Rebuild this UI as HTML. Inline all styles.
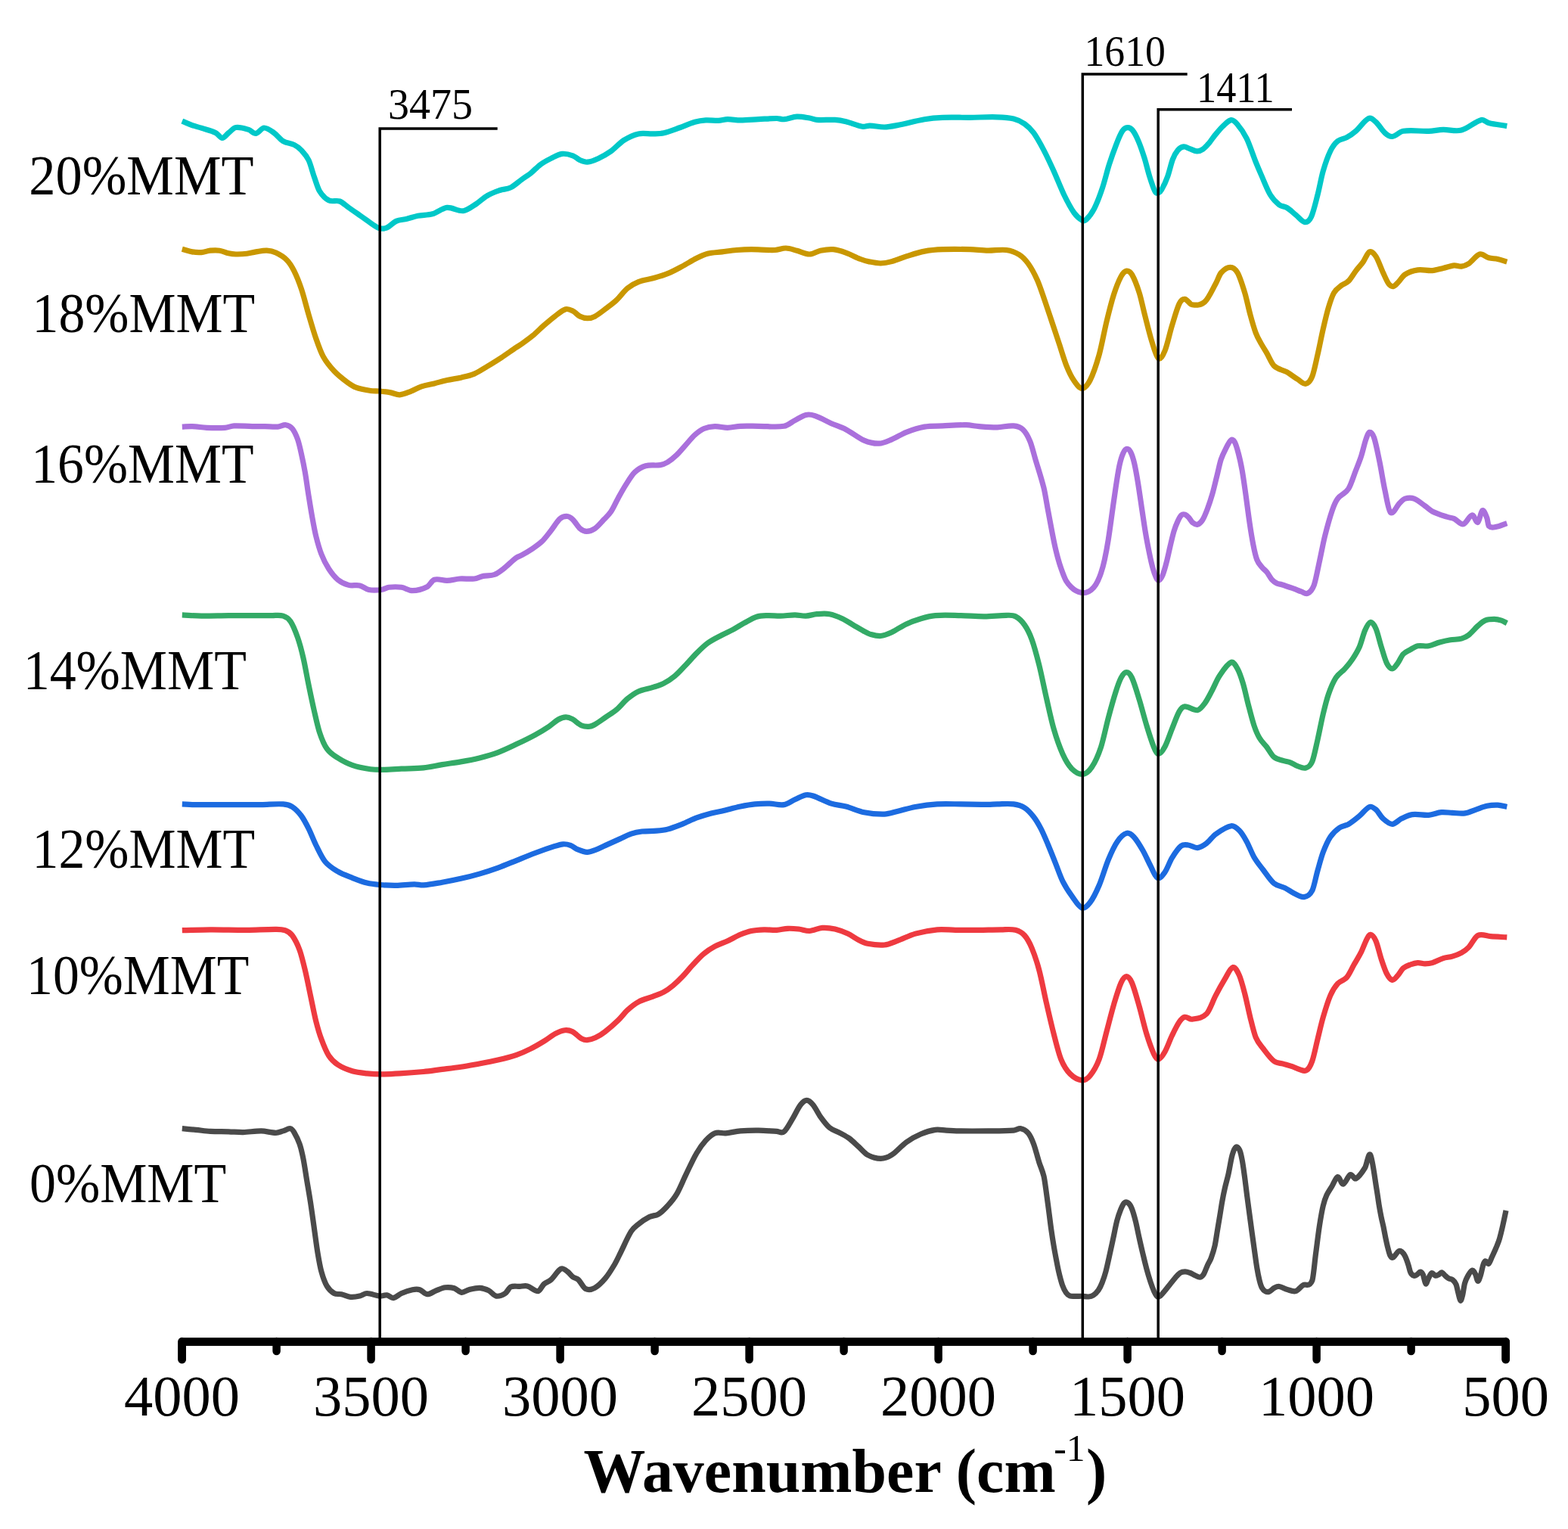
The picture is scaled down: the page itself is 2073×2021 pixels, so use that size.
<!DOCTYPE html>
<html><head><meta charset="utf-8">
<style>
html,body{margin:0;padding:0;background:#fff;}
body{width:2073px;height:2021px;overflow:hidden;}
svg{display:block;}
text{font-family:"Liberation Serif","Times New Roman",serif;fill:#000;}
</style></head><body>
<svg width="2073" height="2021" viewBox="0 0 2073 2021">
<rect width="2073" height="2021" fill="#fff"/>
<g>
<g fill="none" stroke-width="7.2" stroke-linejoin="round" stroke-linecap="butt">
<path d="M240.8,1491.7 C246.8,1492.3 252.9,1492.8 258.9,1493.4 C265.3,1494.0 271.7,1495.0 278.1,1495.4 C286.1,1495.8 294.2,1495.6 302.2,1495.8 C308.6,1496.0 315.0,1496.7 321.4,1496.6 C329.4,1496.4 337.5,1494.8 345.5,1494.9 C351.9,1495.0 358.4,1497.3 364.8,1497.3 C368.0,1497.3 371.2,1495.8 374.4,1494.9 C377.6,1494.0 380.8,1491.3 384.0,1491.7 C385.6,1491.9 387.2,1493.9 388.8,1496.6 C391.2,1500.7 393.7,1505.2 396.1,1512.2 C397.7,1516.8 399.3,1523.4 400.9,1531.4 C402.5,1539.4 404.1,1550.7 405.7,1560.3 C407.3,1569.9 408.9,1578.8 410.5,1589.2 C412.1,1599.6 413.7,1611.7 415.3,1622.9 C416.9,1634.1 418.5,1647.0 420.1,1656.6 C421.7,1666.2 423.3,1675.0 424.9,1680.7 C427.3,1689.4 429.8,1695.8 432.2,1699.9 C435.4,1705.4 438.6,1707.7 441.8,1709.5 C445.0,1711.3 448.2,1710.0 451.4,1710.7 C455.4,1711.6 459.4,1713.9 463.4,1714.3 C467.4,1714.7 471.5,1714.0 475.5,1713.1 C478.7,1712.4 481.9,1709.5 485.1,1709.5 C490.7,1709.5 496.3,1712.6 501.9,1713.1 C505.1,1713.4 508.4,1711.5 511.6,1711.9 C514.4,1712.3 517.2,1715.9 520.0,1715.6 C523.6,1715.1 527.2,1711.1 530.8,1709.5 C535.6,1707.4 540.5,1705.7 545.3,1704.7 C548.5,1704.1 551.7,1703.7 554.9,1704.7 C558.1,1705.7 561.3,1710.5 564.5,1710.7 C568.5,1710.9 572.5,1707.4 576.5,1705.9 C580.5,1704.4 584.6,1702.3 588.6,1701.8 C592.6,1701.3 596.6,1701.6 600.6,1702.8 C603.8,1703.8 607.0,1708.0 610.2,1708.3 C613.4,1708.6 616.7,1705.5 619.9,1704.7 C624.7,1703.5 629.5,1702.1 634.3,1702.3 C638.3,1702.5 642.3,1703.9 646.3,1705.9 C649.5,1707.5 652.8,1712.6 656.0,1713.1 C660.0,1713.8 664.0,1712.0 668.0,1709.5 C670.4,1708.0 672.8,1702.2 675.2,1701.1 C679.2,1699.2 683.2,1700.6 687.2,1700.4 C690.5,1700.2 693.9,1699.1 697.2,1699.9 C702.0,1701.1 706.9,1707.1 711.7,1706.6 C714.1,1706.3 716.5,1699.7 718.9,1697.5 C722.1,1694.6 725.3,1694.4 728.5,1691.5 C732.9,1687.5 737.3,1679.2 741.7,1677.0 C744.5,1675.6 747.4,1678.7 750.2,1680.7 C752.6,1682.4 755.0,1686.1 757.4,1687.9 C759.8,1689.7 762.2,1689.3 764.6,1691.5 C767.8,1694.5 771.0,1701.9 774.2,1703.5 C778.2,1705.5 782.3,1704.5 786.3,1702.3 C791.1,1699.7 795.9,1694.8 800.7,1689.1 C804.7,1684.4 808.7,1677.7 812.7,1671.0 C815.1,1666.9 817.6,1661.5 820.0,1656.6 C824.8,1647.0 829.6,1635.4 834.4,1627.7 C837.6,1622.6 840.8,1620.6 844.0,1618.1 C848.8,1614.2 853.7,1610.9 858.5,1608.5 C862.5,1606.5 866.5,1607.2 870.5,1604.8 C874.5,1602.4 878.5,1598.4 882.5,1594.0 C886.5,1589.6 890.6,1585.2 894.6,1578.4 C898.6,1571.6 902.6,1561.3 906.6,1553.1 C911.4,1543.2 916.2,1532.5 921.0,1524.2 C925.0,1517.2 929.1,1511.8 933.1,1507.4 C937.1,1503.0 941.1,1499.3 945.1,1497.8 C949.9,1496.1 954.7,1498.2 959.5,1497.8 C965.9,1497.2 972.4,1495.4 978.8,1494.9 C986.8,1494.2 994.9,1494.0 1002.9,1494.1 C1010.9,1494.2 1018.9,1495.0 1026.9,1495.4 C1030.1,1495.6 1033.3,1498.5 1036.5,1495.8 C1040.5,1492.4 1044.6,1483.9 1048.6,1477.3 C1051.8,1472.1 1055.0,1464.6 1058.2,1460.5 C1061.0,1456.9 1063.8,1454.4 1066.6,1454.4 C1069.4,1454.4 1072.2,1457.1 1075.0,1460.5 C1078.2,1464.4 1081.5,1471.6 1084.7,1476.1 C1088.7,1481.6 1092.7,1487.2 1096.7,1490.5 C1101.5,1494.4 1106.3,1495.2 1111.1,1497.8 C1115.1,1500.0 1119.2,1502.0 1123.2,1505.0 C1127.2,1508.0 1131.2,1512.2 1135.2,1515.8 C1139.2,1519.4 1143.2,1524.5 1147.2,1526.6 C1152.9,1529.7 1158.7,1531.4 1164.4,1531.4 C1169.2,1531.4 1174.1,1529.7 1178.9,1526.6 C1185.3,1522.5 1191.7,1514.4 1198.1,1509.8 C1204.5,1505.2 1211.0,1501.7 1217.4,1499.0 C1223.8,1496.3 1230.2,1494.3 1236.6,1493.4 C1241.4,1492.7 1246.3,1493.9 1251.1,1494.1 C1257.5,1494.4 1263.9,1494.8 1270.3,1494.9 C1282.3,1495.1 1294.4,1495.0 1306.4,1494.9 C1317.6,1494.8 1328.9,1494.9 1340.1,1494.1 C1343.3,1493.9 1346.5,1491.1 1349.7,1491.7 C1352.9,1492.3 1356.2,1493.9 1359.4,1497.8 C1361.8,1500.7 1364.2,1505.8 1366.6,1512.2 C1369.0,1518.6 1371.4,1528.7 1373.8,1536.3 C1375.9,1542.9 1377.9,1546.1 1380.0,1554.7 C1381.1,1559.3 1382.2,1568.3 1383.3,1576.0 C1384.4,1583.7 1385.5,1592.3 1386.6,1600.6 C1387.7,1608.7 1388.7,1617.7 1389.8,1625.2 C1390.9,1633.0 1392.0,1640.0 1393.1,1646.5 C1394.2,1653.1 1395.3,1658.8 1396.4,1664.5 C1397.5,1670.2 1398.6,1676.3 1399.7,1680.9 C1401.3,1687.8 1403.0,1694.3 1404.6,1698.9 C1406.2,1703.5 1407.9,1706.4 1409.5,1708.7 C1411.1,1711.0 1412.8,1712.2 1414.4,1712.8 C1417.1,1713.8 1419.9,1713.2 1422.6,1713.3 C1425.3,1713.4 1428.1,1713.2 1430.8,1713.3 C1433.5,1713.4 1436.3,1714.2 1439.0,1714.0 C1441.2,1713.8 1443.3,1713.4 1445.5,1712.0 C1447.7,1710.6 1449.9,1708.5 1452.1,1705.4 C1453.7,1703.1 1455.4,1699.7 1457.0,1695.6 C1458.6,1691.5 1460.3,1686.9 1461.9,1680.9 C1463.5,1674.9 1465.2,1666.9 1466.8,1659.6 C1468.5,1652.1 1470.1,1644.3 1471.8,1636.6 C1473.4,1629.0 1475.1,1620.0 1476.7,1613.7 C1478.3,1607.4 1480.0,1602.9 1481.6,1598.9 C1483.2,1594.9 1484.9,1591.4 1486.5,1589.9 C1488.1,1588.4 1489.8,1588.7 1491.4,1589.9 C1493.0,1591.1 1494.7,1593.3 1496.3,1597.3 C1497.9,1601.3 1499.6,1607.2 1501.2,1613.7 C1502.9,1620.3 1504.5,1629.2 1506.2,1636.6 C1507.8,1643.9 1509.5,1651.1 1511.1,1657.9 C1512.7,1664.7 1514.4,1671.6 1516.0,1677.6 C1517.6,1683.6 1519.3,1689.1 1520.9,1694.0 C1522.5,1698.9 1524.2,1703.5 1525.8,1707.1 C1527.2,1710.1 1528.5,1712.6 1529.9,1713.6 C1531.3,1714.5 1532.6,1713.8 1534.0,1712.8 C1536.2,1711.1 1538.4,1708.0 1540.6,1705.4 C1542.8,1702.8 1544.9,1699.9 1547.1,1697.2 C1549.3,1694.5 1551.5,1691.6 1553.7,1689.1 C1555.9,1686.7 1558.0,1683.9 1560.2,1682.5 C1562.4,1681.1 1564.6,1680.9 1566.8,1680.9 C1569.0,1680.9 1571.1,1681.7 1573.3,1682.5 C1575.5,1683.3 1577.7,1684.8 1579.9,1685.8 C1582.1,1686.8 1584.3,1688.5 1586.5,1688.2 C1588.1,1688.0 1589.8,1686.7 1591.4,1684.1 C1593.0,1681.5 1594.7,1676.2 1596.3,1672.7 C1597.9,1669.1 1599.6,1667.2 1601.2,1662.8 C1602.8,1658.4 1604.5,1653.7 1606.1,1646.5 C1607.2,1641.7 1608.3,1633.4 1609.4,1626.8 C1610.5,1620.2 1611.6,1613.8 1612.7,1607.1 C1613.8,1600.7 1614.8,1593.4 1615.9,1587.5 C1617.0,1581.4 1618.1,1575.9 1619.2,1571.1 C1620.8,1563.9 1622.5,1558.7 1624.1,1551.4 C1625.8,1543.9 1627.4,1532.7 1629.1,1526.8 C1630.7,1521.0 1632.4,1517.3 1634.0,1516.2 C1635.6,1515.1 1637.3,1516.9 1638.9,1520.3 C1640.0,1522.6 1641.1,1527.6 1642.2,1533.4 C1643.3,1539.0 1644.3,1546.9 1645.4,1554.7 C1646.5,1562.7 1647.6,1572.4 1648.7,1580.9 C1649.8,1589.4 1650.9,1597.3 1652.0,1605.5 C1653.1,1613.7 1654.2,1622.1 1655.3,1630.1 C1656.4,1637.9 1657.4,1645.5 1658.5,1653.0 C1659.6,1660.8 1660.7,1669.4 1661.8,1675.9 C1662.9,1682.5 1664.0,1687.9 1665.1,1692.3 C1666.2,1696.7 1667.3,1700.2 1668.4,1702.2 C1670.0,1705.1 1671.7,1706.3 1673.3,1707.1 C1674.9,1707.9 1676.6,1707.8 1678.2,1707.1 C1680.4,1706.2 1682.6,1703.3 1684.8,1702.2 C1687.0,1701.1 1689.1,1700.2 1691.3,1700.5 C1694.6,1700.9 1697.8,1703.3 1701.1,1704.2 C1705.1,1705.3 1709.1,1707.6 1713.1,1706.6 C1716.3,1705.8 1719.5,1700.7 1722.7,1698.7 C1726.7,1696.1 1730.8,1702.7 1734.8,1692.7 C1736.4,1688.7 1738.0,1668.6 1739.6,1656.6 C1741.2,1644.6 1742.8,1630.9 1744.4,1620.5 C1746.0,1610.1 1747.6,1600.8 1749.2,1594.0 C1750.8,1587.2 1752.4,1583.1 1754.0,1579.6 C1756.4,1574.3 1758.8,1571.5 1761.2,1567.5 C1763.6,1563.5 1766.1,1555.9 1768.5,1555.5 C1770.9,1555.1 1773.3,1565.5 1775.7,1565.1 C1778.9,1564.5 1782.1,1554.0 1785.3,1552.6 C1787.7,1551.6 1790.1,1559.0 1792.5,1557.9 C1796.5,1556.0 1800.6,1550.0 1804.6,1543.5 C1807.0,1539.6 1809.4,1521.9 1811.8,1526.6 C1814.7,1532.2 1817.5,1557.6 1820.4,1574.3 C1821.3,1579.7 1822.3,1587.4 1823.2,1593.0 C1824.2,1598.8 1825.1,1603.9 1826.1,1608.7 C1827.1,1613.5 1828.0,1617.0 1829.0,1621.6 C1829.9,1626.1 1830.9,1631.5 1831.8,1636.0 C1832.8,1640.6 1833.7,1645.1 1834.7,1648.9 C1835.7,1652.7 1836.6,1656.8 1837.6,1658.9 C1838.8,1661.4 1839.9,1662.5 1841.1,1662.5 C1842.3,1662.5 1843.5,1660.2 1844.7,1658.9 C1846.1,1657.3 1847.6,1654.6 1849.0,1653.9 C1850.4,1653.2 1851.9,1653.5 1853.3,1654.6 C1854.7,1655.7 1856.2,1657.5 1857.6,1660.4 C1859.0,1663.3 1860.5,1667.5 1861.9,1671.8 C1862.9,1674.7 1863.8,1680.0 1864.8,1681.9 C1866.2,1684.8 1867.7,1685.7 1869.1,1686.2 C1870.5,1686.7 1872.0,1685.6 1873.4,1684.7 C1874.8,1683.9 1876.3,1681.1 1877.7,1681.1 C1878.9,1681.1 1880.1,1682.1 1881.3,1684.7 C1882.5,1687.3 1883.7,1696.1 1884.9,1696.9 C1886.1,1697.7 1887.3,1691.9 1888.5,1689.7 C1889.9,1687.1 1891.4,1683.1 1892.8,1682.6 C1894.5,1682.0 1896.1,1685.8 1897.8,1686.2 C1899.2,1686.5 1900.7,1685.4 1902.1,1684.7 C1903.5,1684.0 1905.0,1681.7 1906.4,1681.9 C1907.8,1682.2 1909.3,1684.9 1910.7,1686.2 C1912.1,1687.5 1913.6,1688.9 1915.0,1689.7 C1916.9,1690.8 1918.8,1690.4 1920.7,1691.9 C1922.1,1693.0 1923.6,1694.2 1925.0,1697.6 C1926.0,1699.9 1926.9,1705.5 1927.9,1709.1 C1928.9,1712.7 1929.8,1718.6 1930.8,1719.1 C1931.7,1719.6 1932.7,1715.7 1933.6,1712.0 C1934.6,1708.1 1935.5,1699.7 1936.5,1696.2 C1937.9,1691.1 1939.4,1688.7 1940.8,1686.2 C1942.7,1682.9 1944.6,1679.3 1946.5,1679.0 C1947.9,1678.8 1949.4,1681.9 1950.8,1684.7 C1951.8,1686.6 1952.7,1693.1 1953.7,1693.3 C1954.9,1693.6 1956.1,1689.8 1957.3,1686.2 C1958.5,1682.6 1959.7,1675.4 1960.9,1671.8 C1961.8,1669.0 1962.8,1667.0 1963.7,1666.8 C1965.1,1666.5 1966.6,1671.2 1968.0,1670.4 C1969.4,1669.6 1970.9,1664.9 1972.3,1661.8 C1974.2,1657.7 1976.2,1653.6 1978.1,1648.9 C1979.5,1645.4 1981.0,1642.2 1982.4,1637.4 C1983.8,1632.6 1985.3,1626.3 1986.7,1620.2 C1987.6,1616.2 1988.6,1611.7 1989.5,1607.3 C1990.0,1605.0 1990.5,1602.5 1991.0,1600.1" stroke="#4A4A4A"/>
<path d="M240.8,1229.7 C253.2,1229.4 265.7,1228.9 278.1,1228.8 C294.2,1228.7 310.2,1229.4 326.3,1229.3 C339.1,1229.2 352.0,1228.2 364.8,1228.3 C368.8,1228.3 372.8,1228.2 376.8,1229.7 C380.0,1230.9 383.2,1232.2 386.4,1236.5 C389.6,1240.9 392.9,1247.0 396.1,1255.7 C398.5,1262.2 400.9,1272.2 403.3,1282.2 C405.7,1292.2 408.1,1304.7 410.5,1315.9 C412.9,1327.1 415.3,1340.0 417.7,1349.6 C420.1,1359.2 422.5,1367.1 424.9,1373.6 C428.1,1382.3 431.4,1390.3 434.6,1395.3 C438.6,1401.5 442.6,1404.7 446.6,1407.3 C453.0,1411.5 459.4,1413.9 465.8,1415.8 C472.2,1417.7 478.7,1418.2 485.1,1418.9 C491.5,1419.6 497.9,1419.9 504.3,1419.9 C512.3,1419.9 520.4,1419.4 528.4,1418.9 C538.9,1418.3 549.5,1417.5 560.0,1416.5 C568.2,1415.7 576.4,1414.4 584.6,1413.4 C592.8,1412.4 601.0,1411.5 609.2,1410.3 C617.4,1409.1 625.5,1407.5 633.7,1406.0 C641.9,1404.5 650.1,1403.0 658.3,1401.1 C666.5,1399.1 674.7,1397.1 682.9,1394.3 C689.0,1392.2 695.2,1389.5 701.3,1386.4 C707.5,1383.3 713.6,1379.7 719.8,1375.9 C724.7,1372.9 729.6,1368.7 734.5,1366.1 C738.6,1364.0 742.7,1362.3 746.8,1361.8 C750.1,1361.4 753.3,1362.0 756.6,1363.6 C760.7,1365.6 764.8,1370.5 768.9,1372.8 C771.4,1374.2 773.8,1374.9 776.3,1374.7 C780.0,1374.5 783.6,1373.3 787.3,1371.6 C791.5,1369.6 795.8,1366.9 800.0,1363.6 C805.8,1359.1 811.7,1354.0 817.5,1348.4 C821.5,1344.5 825.6,1338.8 829.6,1335.1 C834.4,1330.7 839.2,1326.9 844.0,1324.3 C850.4,1320.9 856.9,1319.6 863.3,1317.1 C868.1,1315.2 872.9,1313.7 877.7,1311.1 C881.7,1308.9 885.7,1306.0 889.7,1302.7 C893.7,1299.4 897.8,1295.5 901.8,1291.3 C906.6,1286.3 911.4,1280.1 916.2,1275.0 C921.0,1269.8 925.9,1264.5 930.7,1260.5 C935.5,1256.5 940.3,1253.5 945.1,1250.9 C950.7,1247.9 956.3,1246.3 961.9,1243.7 C967.5,1241.1 973.2,1237.7 978.8,1235.3 C983.6,1233.3 988.4,1231.5 993.2,1230.5 C998.8,1229.3 1004.5,1229.0 1010.1,1228.8 C1015.7,1228.6 1021.3,1229.6 1026.9,1229.3 C1031.7,1229.1 1036.6,1227.5 1041.4,1227.3 C1046.2,1227.1 1051.0,1227.5 1055.8,1228.0 C1060.6,1228.5 1065.4,1230.7 1070.2,1230.5 C1075.8,1230.2 1081.5,1226.8 1087.1,1226.4 C1092.7,1226.0 1098.3,1226.7 1103.9,1228.0 C1109.5,1229.3 1115.2,1231.5 1120.8,1234.1 C1125.6,1236.3 1130.4,1240.1 1135.2,1242.5 C1139.2,1244.5 1143.2,1246.5 1147.2,1247.3 C1154.6,1248.7 1161.9,1249.7 1169.3,1249.0 C1174.9,1248.5 1180.5,1245.7 1186.1,1243.7 C1194.1,1240.8 1202.2,1236.4 1210.2,1234.1 C1219.8,1231.4 1229.4,1229.7 1239.0,1228.8 C1247.0,1228.1 1255.1,1229.2 1263.1,1229.3 C1273.5,1229.4 1284.0,1229.4 1294.4,1229.3 C1304.0,1229.2 1313.7,1228.8 1323.3,1228.8 C1329.7,1228.8 1336.1,1227.7 1342.5,1229.3 C1346.5,1230.3 1350.6,1232.0 1354.6,1236.5 C1357.8,1240.0 1361.0,1245.7 1364.2,1253.3 C1367.4,1260.9 1370.6,1270.2 1373.8,1282.2 C1377.0,1294.2 1380.2,1311.5 1383.4,1325.5 C1386.6,1339.6 1389.9,1353.9 1393.1,1366.4 C1396.3,1378.8 1399.5,1392.2 1402.7,1400.1 C1406.7,1409.9 1410.7,1415.4 1414.7,1419.4 C1419.9,1424.6 1425.2,1427.3 1430.4,1427.8 C1434.0,1428.1 1437.6,1426.2 1441.2,1421.8 C1445.2,1416.9 1449.2,1410.8 1453.2,1400.1 C1456.4,1391.5 1459.7,1376.1 1462.9,1364.0 C1466.1,1352.0 1469.3,1338.7 1472.5,1327.9 C1475.7,1317.1 1478.9,1306.1 1482.1,1299.0 C1484.5,1293.7 1486.9,1290.6 1489.3,1290.6 C1491.7,1290.6 1494.1,1293.4 1496.5,1299.0 C1499.7,1306.6 1503.0,1319.0 1506.2,1330.3 C1509.4,1341.5 1512.6,1356.0 1515.8,1366.4 C1519.0,1376.8 1522.2,1386.0 1525.4,1392.9 C1527.4,1397.2 1529.4,1400.4 1531.4,1400.1 C1534.2,1399.6 1537.1,1395.4 1539.9,1390.5 C1543.1,1385.0 1546.3,1375.4 1549.5,1368.8 C1552.7,1362.2 1555.9,1355.5 1559.1,1350.8 C1561.5,1347.3 1563.9,1344.8 1566.3,1344.3 C1569.5,1343.6 1572.8,1347.7 1576.0,1347.2 C1582.4,1346.2 1588.8,1346.4 1595.2,1340.0 C1599.2,1336.0 1603.2,1323.5 1607.2,1315.9 C1611.2,1308.2 1615.3,1300.8 1619.3,1294.2 C1622.9,1288.3 1626.5,1279.5 1630.1,1278.6 C1632.9,1277.9 1635.7,1283.1 1638.5,1289.4 C1640.9,1294.8 1643.3,1304.3 1645.7,1313.5 C1648.1,1322.7 1650.5,1335.2 1652.9,1344.8 C1655.3,1354.5 1657.8,1365.3 1660.2,1371.2 C1663.4,1378.9 1666.6,1381.5 1669.8,1385.7 C1674.6,1392.0 1679.4,1398.8 1684.2,1402.5 C1688.2,1405.6 1692.3,1404.9 1696.3,1406.1 C1700.3,1407.3 1704.3,1408.3 1708.3,1409.7 C1711.5,1410.8 1714.7,1412.6 1717.9,1413.4 C1721.1,1414.2 1724.3,1416.7 1727.5,1414.6 C1729.9,1413.0 1732.4,1409.4 1734.8,1402.5 C1737.2,1395.7 1739.6,1383.2 1742.0,1373.6 C1744.4,1364.0 1746.8,1353.0 1749.2,1344.8 C1752.4,1333.8 1755.6,1323.3 1758.8,1315.9 C1762.0,1308.4 1765.3,1303.8 1768.5,1300.2 C1772.5,1295.8 1776.5,1296.5 1780.5,1291.8 C1783.7,1288.1 1786.9,1280.6 1790.1,1275.0 C1793.3,1269.4 1796.5,1264.5 1799.7,1258.1 C1802.1,1253.2 1804.6,1245.9 1807.0,1241.3 C1808.6,1238.3 1810.2,1235.0 1811.8,1235.3 C1814.2,1235.8 1816.6,1238.3 1819.0,1243.7 C1821.4,1249.1 1823.8,1260.6 1826.2,1267.8 C1828.6,1275.0 1831.0,1282.4 1833.4,1287.0 C1835.8,1291.6 1838.3,1295.0 1840.7,1295.4 C1843.1,1295.8 1845.5,1292.0 1847.9,1289.4 C1850.3,1286.8 1852.7,1281.9 1855.1,1279.8 C1858.3,1277.1 1861.5,1276.2 1864.7,1275.0 C1867.9,1273.8 1871.1,1272.8 1874.3,1272.6 C1877.5,1272.4 1880.8,1273.8 1884.0,1273.8 C1887.2,1273.8 1890.4,1273.6 1893.6,1272.6 C1898.4,1271.2 1903.2,1268.1 1908.0,1266.6 C1912.0,1265.3 1916.1,1265.3 1920.1,1264.1 C1924.1,1262.9 1928.1,1261.5 1932.1,1259.3 C1935.3,1257.5 1938.5,1255.5 1941.7,1252.1 C1945.7,1247.9 1949.8,1238.5 1953.8,1236.5 C1959.4,1233.7 1965.0,1237.4 1970.6,1237.7 C1977.8,1238.2 1985.1,1238.5 1992.3,1238.9" stroke="#EE3A40"/>
<path d="M240.8,1062.9 C245.2,1063.1 249.7,1063.5 254.1,1063.6 C270.1,1063.8 286.2,1063.6 302.2,1063.6 C316.6,1063.6 331.1,1063.7 345.5,1063.6 C355.1,1063.5 364.8,1062.2 374.4,1062.9 C378.4,1063.2 382.4,1063.9 386.4,1066.5 C390.4,1069.1 394.5,1073.1 398.5,1078.5 C401.7,1082.8 404.9,1089.0 408.1,1095.4 C411.3,1101.8 414.5,1110.6 417.7,1117.0 C421.7,1125.0 425.7,1133.9 429.7,1138.7 C435.3,1145.5 441.0,1148.5 446.6,1151.9 C453.0,1155.7 459.4,1157.8 465.8,1160.3 C472.2,1162.8 478.7,1165.5 485.1,1167.1 C490.7,1168.5 496.3,1169.0 501.9,1169.5 C509.1,1170.1 516.4,1170.5 523.6,1170.4 C531.6,1170.3 539.7,1168.9 547.7,1168.8 C551.8,1168.7 555.9,1170.2 560.0,1169.9 C568.2,1169.3 576.4,1167.6 584.6,1166.2 C592.8,1164.8 601.0,1163.2 609.2,1161.3 C617.4,1159.5 625.5,1157.5 633.7,1155.1 C641.9,1152.7 650.1,1150.1 658.3,1147.1 C666.5,1144.1 674.7,1140.6 682.9,1137.3 C691.1,1134.0 699.3,1130.6 707.5,1127.5 C715.7,1124.4 723.8,1121.5 732.0,1118.9 C736.1,1117.6 740.2,1116.1 744.3,1115.8 C747.6,1115.6 750.9,1116.1 754.2,1117.3 C757.5,1118.5 760.7,1121.6 764.0,1122.9 C768.1,1124.6 772.2,1126.2 776.3,1126.3 C780.0,1126.4 783.6,1124.7 787.3,1123.4 C791.5,1121.8 795.8,1119.5 800.0,1117.6 C806.7,1114.6 813.3,1111.6 820.0,1108.6 C824.8,1106.4 829.6,1103.7 834.4,1102.1 C839.2,1100.5 844.0,1099.6 848.8,1099.0 C855.2,1098.3 861.7,1098.8 868.1,1098.2 C872.9,1097.8 877.7,1097.4 882.5,1096.1 C888.9,1094.4 895.4,1091.8 901.8,1089.3 C908.2,1086.8 914.6,1083.3 921.0,1080.9 C927.4,1078.5 933.9,1076.6 940.3,1074.9 C945.1,1073.6 949.9,1073.1 954.7,1072.0 C962.7,1070.1 970.8,1067.7 978.8,1066.0 C985.2,1064.7 991.6,1063.5 998.0,1062.9 C1004.4,1062.2 1010.9,1062.0 1017.3,1062.1 C1023.7,1062.2 1030.1,1064.6 1036.5,1063.6 C1041.3,1062.8 1046.2,1058.9 1051.0,1056.8 C1055.8,1054.7 1060.6,1051.8 1065.4,1050.8 C1068.6,1050.2 1071.8,1050.9 1075.0,1052.0 C1083.0,1054.7 1091.1,1059.5 1099.1,1062.1 C1105.5,1064.2 1112.0,1064.3 1118.4,1066.0 C1126.4,1068.1 1134.4,1072.1 1142.4,1073.7 C1151.4,1075.5 1160.3,1076.3 1169.3,1076.1 C1174.9,1075.9 1180.5,1073.8 1186.1,1072.5 C1194.1,1070.6 1202.2,1068.0 1210.2,1066.5 C1219.8,1064.8 1229.4,1063.5 1239.0,1062.9 C1249.4,1062.3 1259.9,1062.8 1270.3,1062.9 C1282.3,1063.0 1294.4,1063.3 1306.4,1063.3 C1310.4,1063.3 1314.5,1062.9 1318.5,1062.9 C1325.7,1062.8 1332.9,1061.9 1340.1,1062.9 C1344.9,1063.5 1349.8,1064.6 1354.6,1067.7 C1358.6,1070.2 1362.6,1074.6 1366.6,1079.7 C1369.8,1083.8 1373.0,1089.2 1376.2,1095.4 C1379.4,1101.6 1382.6,1109.4 1385.8,1117.0 C1389.0,1124.7 1392.3,1133.0 1395.5,1141.1 C1398.7,1149.1 1401.9,1158.7 1405.1,1165.1 C1409.1,1173.1 1413.1,1178.9 1417.1,1184.4 C1421.5,1190.5 1426.0,1198.5 1430.4,1200.0 C1434.0,1201.3 1437.6,1197.5 1441.2,1192.8 C1445.2,1187.5 1449.2,1179.4 1453.2,1170.0 C1457.2,1160.5 1461.3,1146.0 1465.3,1136.3 C1469.3,1126.7 1473.3,1118.0 1477.3,1112.2 C1481.3,1106.4 1485.3,1102.5 1489.3,1101.4 C1492.5,1100.5 1495.8,1102.8 1499.0,1106.2 C1503.0,1110.4 1507.0,1117.3 1511.0,1124.2 C1514.2,1129.7 1517.4,1137.5 1520.6,1143.5 C1523.8,1149.5 1527.0,1158.7 1530.2,1160.3 C1533.4,1161.9 1536.7,1157.5 1539.9,1153.1 C1543.1,1148.7 1546.3,1139.1 1549.5,1133.9 C1553.5,1127.4 1557.5,1121.3 1561.5,1118.2 C1564.7,1115.7 1567.9,1116.6 1571.1,1117.0 C1575.1,1117.4 1579.2,1121.0 1583.2,1120.6 C1587.2,1120.2 1591.2,1117.6 1595.2,1114.6 C1599.2,1111.6 1603.2,1105.4 1607.2,1102.6 C1614.0,1097.8 1620.9,1092.7 1627.7,1091.7 C1631.3,1091.1 1634.9,1094.2 1638.5,1097.8 C1641.7,1101.0 1644.9,1106.4 1648.1,1112.2 C1651.3,1118.0 1654.6,1127.1 1657.8,1132.7 C1661.8,1139.6 1665.8,1144.2 1669.8,1149.5 C1674.6,1155.8 1679.4,1163.5 1684.2,1167.5 C1689.0,1171.5 1693.9,1171.2 1698.7,1173.6 C1702.7,1175.6 1706.7,1178.9 1710.7,1180.8 C1715.1,1182.9 1719.5,1186.3 1723.9,1185.6 C1727.5,1185.1 1731.2,1184.2 1734.8,1177.2 C1737.2,1172.6 1739.6,1159.1 1742.0,1150.7 C1744.4,1142.3 1746.8,1133.0 1749.2,1126.6 C1752.4,1118.1 1755.6,1111.0 1758.8,1106.2 C1762.8,1100.2 1766.9,1096.9 1770.9,1094.1 C1774.9,1091.3 1778.9,1091.7 1782.9,1089.3 C1787.7,1086.5 1792.5,1082.5 1797.3,1078.5 C1801.7,1074.9 1806.2,1068.2 1810.6,1066.5 C1813.4,1065.4 1816.2,1067.7 1819.0,1070.1 C1822.2,1072.9 1825.4,1079.3 1828.6,1082.1 C1832.6,1085.7 1836.7,1089.3 1840.7,1089.3 C1844.7,1089.3 1848.7,1084.0 1852.7,1082.1 C1857.5,1079.8 1862.3,1077.2 1867.1,1076.6 C1874.3,1075.6 1881.6,1077.8 1888.8,1077.3 C1894.4,1076.9 1900.0,1074.2 1905.6,1073.7 C1910.4,1073.3 1915.3,1074.2 1920.1,1074.4 C1925.7,1074.6 1931.3,1075.7 1936.9,1074.9 C1941.7,1074.2 1946.6,1071.7 1951.4,1070.1 C1956.2,1068.5 1961.0,1066.3 1965.8,1065.3 C1970.6,1064.3 1975.4,1063.9 1980.2,1064.1 C1984.2,1064.3 1988.3,1065.7 1992.3,1066.5" stroke="#1C6BE0"/>
<path d="M240.8,812.9 C249.2,813.3 257.7,814.0 266.1,814.1 C278.1,814.2 290.2,813.7 302.2,813.6 C321.5,813.5 340.7,813.5 360.0,813.6 C364.8,813.6 369.6,812.6 374.4,814.1 C377.6,815.1 380.8,816.5 384.0,821.3 C387.2,826.1 390.4,833.8 393.6,842.9 C396.0,849.8 398.5,858.9 400.9,869.4 C403.3,879.8 405.7,893.9 408.1,905.5 C410.5,917.1 412.9,928.8 415.3,939.2 C417.7,949.6 420.1,960.9 422.5,968.1 C425.7,977.8 429.0,985.2 432.2,989.7 C437.0,996.4 441.8,998.7 446.6,1001.8 C453.0,1005.9 459.4,1009.2 465.8,1011.4 C473.8,1014.2 481.9,1015.5 489.9,1016.7 C495.5,1017.5 501.2,1017.5 506.8,1017.4 C514.8,1017.3 522.8,1016.6 530.8,1016.2 C540.5,1015.7 550.3,1015.9 560.0,1014.9 C568.2,1014.0 576.4,1011.9 584.6,1010.6 C592.8,1009.3 601.0,1008.3 609.2,1006.9 C617.4,1005.5 625.5,1004.0 633.7,1002.0 C641.9,999.9 650.1,997.7 658.3,994.6 C666.5,991.5 674.7,987.5 682.9,983.6 C691.1,979.7 699.3,975.8 707.5,971.3 C713.6,968.0 719.8,964.3 725.9,960.2 C730.0,957.5 734.1,953.3 738.2,951.0 C741.5,949.2 744.7,948.0 748.0,947.9 C750.9,947.8 753.7,948.9 756.6,950.4 C760.7,952.6 764.8,957.3 768.9,959.0 C772.6,960.5 776.3,960.6 780.0,960.2 C782.4,959.9 784.9,958.5 787.3,957.1 C791.5,954.6 795.8,951.4 800.0,948.5 C805.0,945.0 810.1,942.2 815.1,938.0 C819.9,933.9 824.8,927.6 829.6,923.6 C834.4,919.6 839.2,916.1 844.0,913.9 C850.4,911.0 856.9,910.5 863.3,908.4 C868.1,906.9 872.9,905.6 877.7,903.1 C882.5,900.6 887.4,897.5 892.2,893.5 C897.0,889.5 901.8,884.0 906.6,879.0 C911.4,874.0 916.2,868.2 921.0,863.4 C925.8,858.6 930.7,853.7 935.5,850.2 C941.9,845.6 948.3,842.7 954.7,839.3 C959.5,836.7 964.4,834.7 969.2,832.1 C974.0,829.5 978.8,826.3 983.6,823.7 C989.2,820.7 994.8,817.1 1000.4,815.3 C1005.2,813.7 1010.1,813.8 1014.9,813.6 C1020.5,813.4 1026.1,814.2 1031.7,814.1 C1038.1,814.0 1044.6,812.9 1051.0,812.9 C1055.8,812.9 1060.6,814.3 1065.4,814.1 C1070.2,813.9 1075.1,812.1 1079.9,811.7 C1085.5,811.3 1091.1,810.7 1096.7,811.7 C1102.3,812.7 1108.0,815.1 1113.6,817.7 C1118.4,819.9 1123.2,823.3 1128.0,826.1 C1132.8,828.9 1137.6,831.9 1142.4,834.5 C1144.9,835.9 1147.5,837.4 1150.0,838.1 C1154.8,839.4 1159.6,840.9 1164.4,840.5 C1169.2,840.1 1174.1,837.9 1178.9,835.7 C1185.3,832.7 1191.7,827.9 1198.1,824.9 C1204.5,821.9 1211.0,819.6 1217.4,817.7 C1223.8,815.8 1230.2,814.1 1236.6,813.6 C1247.8,812.7 1259.1,813.4 1270.3,813.6 C1280.7,813.8 1291.2,814.9 1301.6,814.8 C1311.2,814.8 1320.9,813.3 1330.5,813.3 C1334.5,813.3 1338.5,812.7 1342.5,814.8 C1346.5,816.9 1350.6,820.4 1354.6,826.1 C1357.8,830.6 1361.0,836.6 1364.2,845.4 C1367.4,854.2 1370.6,866.2 1373.8,879.0 C1377.0,891.8 1380.2,908.4 1383.4,922.4 C1386.6,936.5 1389.9,952.2 1393.1,963.3 C1397.1,977.1 1401.1,988.2 1405.1,997.0 C1409.1,1005.8 1413.1,1012.2 1417.1,1016.2 C1421.9,1021.0 1426.8,1023.8 1431.6,1023.4 C1435.6,1023.0 1439.6,1019.8 1443.6,1013.8 C1447.6,1007.8 1451.6,999.3 1455.6,987.3 C1458.8,977.6 1462.1,960.9 1465.3,948.8 C1468.5,936.8 1471.7,925.2 1474.9,915.1 C1477.3,907.5 1479.7,900.3 1482.1,895.9 C1484.5,891.5 1486.9,888.7 1489.3,888.7 C1491.7,888.7 1494.1,890.8 1496.5,895.9 C1499.7,902.8 1503.0,914.3 1506.2,924.8 C1509.4,935.2 1512.6,948.1 1515.8,958.5 C1519.0,968.9 1522.2,979.5 1525.4,987.3 C1527.4,992.2 1529.4,996.5 1531.4,996.5 C1534.2,996.5 1537.1,992.5 1539.9,987.3 C1543.1,981.4 1546.3,971.1 1549.5,963.3 C1552.7,955.5 1555.9,946.0 1559.1,940.4 C1561.5,936.2 1563.9,934.1 1566.3,933.9 C1571.9,933.5 1577.6,939.6 1583.2,938.7 C1586.4,938.2 1589.6,933.9 1592.8,929.6 C1596.0,925.3 1599.2,918.7 1602.4,912.7 C1605.6,906.7 1608.9,898.3 1612.1,893.5 C1617.3,885.8 1622.5,877.5 1627.7,875.4 C1630.5,874.3 1633.3,878.9 1636.1,883.9 C1638.5,888.2 1640.9,895.1 1643.3,903.1 C1645.7,911.1 1648.1,922.8 1650.5,932.0 C1652.9,941.3 1655.4,951.2 1657.8,958.5 C1660.2,965.7 1662.6,971.2 1665.0,975.3 C1668.2,980.8 1671.4,983.1 1674.6,987.3 C1677.8,991.5 1681.0,997.9 1684.2,1000.6 C1688.2,1004.0 1692.3,1004.1 1696.3,1005.4 C1699.5,1006.5 1702.7,1006.6 1705.9,1007.8 C1709.1,1009.0 1712.3,1011.5 1715.5,1012.6 C1719.1,1013.9 1722.7,1016.1 1726.3,1015.0 C1729.1,1014.1 1732.0,1013.3 1734.8,1006.6 C1737.2,1000.9 1739.6,988.1 1742.0,977.7 C1744.4,967.3 1746.8,954.0 1749.2,944.0 C1751.6,934.0 1754.0,924.3 1756.4,917.5 C1759.6,908.3 1762.9,900.9 1766.1,895.9 C1770.1,889.7 1774.1,888.4 1778.1,883.9 C1781.3,880.3 1784.5,876.6 1787.7,871.8 C1790.9,867.0 1794.1,862.3 1797.3,855.0 C1799.7,849.5 1802.2,838.8 1804.6,833.3 C1807.0,827.9 1809.4,822.9 1811.8,822.5 C1814.2,822.1 1816.6,825.5 1819.0,830.9 C1821.4,836.3 1823.8,847.4 1826.2,855.0 C1828.6,862.6 1831.0,871.8 1833.4,876.6 C1835.8,881.4 1838.3,883.9 1840.7,883.9 C1843.1,883.9 1845.5,879.8 1847.9,876.6 C1850.3,873.4 1852.7,867.2 1855.1,864.6 C1858.3,861.2 1861.5,860.4 1864.7,858.6 C1867.9,856.8 1871.1,854.4 1874.3,853.8 C1879.1,852.8 1884.0,854.6 1888.8,853.8 C1893.6,853.0 1898.4,850.3 1903.2,849.0 C1908.0,847.7 1912.9,846.6 1917.7,845.8 C1922.5,845.0 1927.3,845.4 1932.1,844.1 C1935.3,843.2 1938.5,841.8 1941.7,839.3 C1945.7,836.2 1949.8,830.9 1953.8,827.3 C1957.0,824.5 1960.2,821.4 1963.4,820.1 C1967.4,818.5 1971.4,818.4 1975.4,818.4 C1978.6,818.4 1981.8,819.1 1985.0,820.1 C1987.4,820.9 1989.9,822.5 1992.3,823.7" stroke="#33AA66"/>
<path d="M240.8,564.1 C245.2,563.9 249.7,563.4 254.1,563.6 C260.5,563.8 266.9,565.0 273.3,565.3 C281.3,565.6 289.4,565.8 297.4,565.3 C301.4,565.0 305.4,563.1 309.4,562.9 C317.4,562.5 325.5,563.5 333.5,563.6 C339.1,563.7 344.7,563.5 350.3,563.6 C355.9,563.7 361.6,564.5 367.2,564.1 C370.8,563.9 374.4,561.2 378.0,561.7 C380.8,562.1 383.6,563.1 386.4,566.5 C388.8,569.5 391.2,574.2 393.6,580.9 C395.2,585.4 396.9,592.9 398.5,600.2 C400.1,607.3 401.7,615.0 403.3,624.2 C404.9,633.4 406.5,645.5 408.1,655.5 C409.7,665.5 411.3,675.6 412.9,684.4 C414.5,693.2 416.1,702.1 417.7,708.5 C420.1,718.1 422.5,726.4 424.9,732.5 C428.1,740.8 431.4,746.8 434.6,751.8 C438.6,758.0 442.6,762.9 446.6,766.2 C451.4,770.1 456.2,772.1 461.0,773.4 C465.8,774.7 470.7,772.8 475.5,773.9 C479.5,774.8 483.5,778.7 487.5,779.5 C493.1,780.6 498.7,780.2 504.3,779.5 C507.5,779.1 510.8,776.7 514.0,776.3 C519.6,775.6 525.2,775.5 530.8,776.3 C535.6,777.0 540.5,780.8 545.3,780.7 C551.7,780.6 558.1,779.0 564.5,775.8 C567.7,774.2 570.9,767.2 574.1,766.2 C579.7,764.4 585.4,767.6 591.0,767.4 C596.6,767.2 602.2,765.4 607.8,765.0 C614.2,764.6 620.7,765.7 627.1,765.0 C631.1,764.5 635.1,762.2 639.1,761.4 C643.9,760.4 648.8,761.3 653.6,759.5 C657.6,758.1 661.6,754.9 665.6,751.8 C671.2,747.5 676.8,741.5 682.4,737.3 C684.9,735.4 687.5,735.1 690.0,733.7 C694.0,731.5 698.0,729.2 702.0,726.5 C706.8,723.2 711.7,720.3 716.5,715.7 C720.5,711.9 724.5,706.2 728.5,701.2 C732.5,696.2 736.5,689.0 740.5,685.6 C743.7,682.8 747.0,682.3 750.2,682.5 C752.6,682.7 755.0,684.5 757.4,686.8 C760.6,689.9 763.8,696.0 767.0,698.8 C769.8,701.2 772.6,702.4 775.4,702.4 C779.0,702.4 782.7,701.3 786.3,698.8 C790.3,696.1 794.3,691.0 798.3,686.8 C801.5,683.4 804.7,680.8 807.9,676.0 C811.1,671.2 814.3,663.7 817.5,657.9 C820.7,652.1 824.0,646.1 827.2,641.1 C831.2,634.9 835.2,628.0 839.2,624.2 C844.0,619.6 848.8,617.2 853.6,615.8 C860.0,614.0 866.5,615.7 872.9,614.6 C876.1,614.1 879.3,612.9 882.5,611.0 C886.5,608.5 890.6,605.2 894.6,601.4 C898.6,597.6 902.6,592.5 906.6,588.1 C910.6,583.7 914.6,578.5 918.6,574.9 C922.6,571.3 926.7,568.2 930.7,566.5 C935.5,564.5 940.3,563.8 945.1,563.6 C950.7,563.4 956.3,565.3 961.9,565.3 C967.5,565.2 973.2,563.6 978.8,563.3 C986.8,562.9 994.9,563.3 1002.9,563.3 C1014.1,563.3 1025.3,565.1 1036.5,563.3 C1041.3,562.5 1046.2,558.1 1051.0,555.6 C1055.8,553.1 1060.6,549.5 1065.4,548.4 C1069.4,547.5 1073.5,548.2 1077.5,549.6 C1084.7,552.0 1091.9,556.5 1099.1,559.7 C1105.5,562.5 1112.0,564.4 1118.4,567.7 C1126.4,571.8 1134.4,578.7 1142.4,582.1 C1148.9,584.9 1155.5,586.4 1162.0,586.2 C1167.6,586.0 1173.3,583.2 1178.9,580.9 C1185.3,578.3 1191.7,573.8 1198.1,571.3 C1206.1,568.2 1214.2,565.5 1222.2,564.1 C1230.2,562.7 1238.3,563.2 1246.3,562.9 C1256.7,562.4 1267.1,561.5 1277.5,561.7 C1283.1,561.8 1288.8,563.2 1294.4,563.6 C1302.4,564.2 1310.5,564.9 1318.5,564.8 C1325.7,564.7 1332.9,562.3 1340.1,562.9 C1344.1,563.2 1348.2,563.9 1352.2,567.7 C1355.4,570.7 1358.6,575.7 1361.8,583.3 C1364.2,589.0 1366.6,599.3 1369.0,607.4 C1372.7,619.8 1376.3,630.2 1380.0,644.9 C1381.6,651.4 1383.3,662.4 1384.9,671.1 C1386.5,679.8 1388.2,688.8 1389.8,697.3 C1391.4,705.8 1393.1,714.6 1394.7,721.9 C1396.4,729.3 1398.0,735.7 1399.7,741.5 C1401.3,747.2 1403.0,751.9 1404.6,756.3 C1406.2,760.7 1407.9,765.0 1409.5,767.8 C1411.7,771.5 1413.8,773.7 1416.0,775.9 C1418.2,778.1 1420.4,779.7 1422.6,780.9 C1424.8,782.1 1427.0,782.9 1429.2,783.3 C1431.4,783.7 1433.5,783.8 1435.7,783.3 C1437.9,782.7 1440.1,781.8 1442.3,780.0 C1444.5,778.2 1446.6,776.4 1448.8,772.7 C1451.0,769.0 1453.2,764.2 1455.4,757.9 C1457.0,753.2 1458.7,747.3 1460.3,739.9 C1461.9,732.5 1463.6,723.8 1465.2,713.7 C1466.8,703.6 1468.5,690.8 1470.1,679.3 C1471.7,667.8 1473.4,655.5 1475.0,644.9 C1476.6,634.2 1478.3,623.0 1479.9,615.4 C1481.6,607.7 1483.2,602.7 1484.9,599.0 C1486.5,595.4 1488.2,593.6 1489.8,593.3 C1491.4,593.0 1493.1,594.2 1494.7,597.3 C1496.3,600.4 1498.0,605.3 1499.6,612.1 C1501.2,618.9 1502.9,628.5 1504.5,638.3 C1506.1,648.1 1507.8,660.3 1509.4,671.1 C1511.1,682.1 1512.7,694.0 1514.4,703.9 C1516.0,713.6 1517.7,722.2 1519.3,730.1 C1520.9,738.0 1522.6,745.7 1524.2,751.4 C1525.8,757.1 1527.5,761.4 1529.1,764.5 C1530.2,766.6 1531.3,767.6 1532.4,766.9 C1534.0,765.9 1535.7,763.5 1537.3,759.6 C1538.9,755.6 1540.6,749.5 1542.2,743.2 C1543.8,736.9 1545.5,728.7 1547.1,721.9 C1548.7,715.1 1550.4,707.6 1552.0,702.2 C1553.7,696.7 1555.3,692.7 1557.0,689.1 C1558.6,685.6 1560.3,682.4 1561.9,680.9 C1563.5,679.4 1565.2,679.6 1566.8,680.1 C1568.4,680.7 1570.1,682.4 1571.7,684.2 C1573.3,686.0 1575.0,689.4 1576.6,690.7 C1578.8,692.4 1581.0,693.7 1583.2,693.2 C1585.4,692.7 1587.5,690.9 1589.7,687.5 C1591.9,684.1 1594.1,678.5 1596.3,672.7 C1598.5,667.0 1600.6,660.7 1602.8,653.1 C1605.0,645.4 1607.2,635.6 1609.4,626.8 C1611.0,620.3 1612.7,612.1 1614.3,607.2 C1616.5,600.6 1618.7,596.7 1620.9,592.4 C1623.1,588.2 1625.2,583.4 1627.4,581.8 C1629.0,580.6 1630.7,581.3 1632.3,584.2 C1633.9,587.1 1635.6,592.8 1637.2,599.0 C1638.9,605.3 1640.5,612.5 1642.2,621.9 C1643.8,631.1 1645.5,643.2 1647.1,654.7 C1648.7,666.2 1650.4,679.8 1652.0,690.7 C1653.6,701.6 1655.3,712.0 1656.9,720.2 C1658.5,728.4 1660.2,735.7 1661.8,739.9 C1664.0,745.5 1666.2,746.9 1668.4,749.7 C1670.6,752.4 1672.7,753.6 1674.9,756.3 C1677.1,759.1 1679.3,763.6 1681.5,766.1 C1683.7,768.5 1685.8,769.9 1688.0,771.0 C1690.2,772.1 1692.4,772.0 1694.6,772.7 C1700.0,774.4 1705.3,776.3 1710.7,778.2 C1713.9,779.3 1717.1,780.8 1720.3,781.9 C1723.1,782.9 1726.0,785.7 1728.8,784.3 C1731.6,782.9 1734.4,781.0 1737.2,773.4 C1739.6,766.9 1742.0,753.0 1744.4,742.2 C1746.8,731.4 1749.2,718.1 1751.6,708.5 C1754.8,695.7 1758.0,684.2 1761.2,674.8 C1763.6,667.7 1766.1,662.3 1768.5,659.1 C1773.3,652.7 1778.1,653.4 1782.9,645.9 C1786.1,640.9 1789.3,630.0 1792.5,621.8 C1794.9,615.6 1797.3,610.0 1799.7,602.6 C1801.7,596.3 1803.8,586.7 1805.8,580.9 C1807.4,576.3 1809.0,571.7 1810.6,571.3 C1812.6,570.9 1814.6,572.7 1816.6,578.5 C1819.0,585.5 1821.4,598.2 1823.8,609.8 C1826.2,621.4 1828.6,637.1 1831.0,648.3 C1833.4,659.5 1835.8,675.1 1838.2,677.2 C1842.2,680.7 1846.3,668.9 1850.3,665.1 C1852.7,662.8 1855.1,659.9 1857.5,659.1 C1861.5,657.9 1865.5,657.6 1869.5,659.1 C1874.3,660.9 1879.2,665.4 1884.0,668.8 C1887.2,671.0 1890.4,674.4 1893.6,676.0 C1900.0,679.2 1906.5,681.1 1912.9,683.2 C1916.1,684.3 1919.3,684.2 1922.5,685.6 C1926.5,687.4 1930.5,693.6 1934.5,692.8 C1938.5,692.0 1942.5,681.3 1946.5,680.8 C1948.9,680.5 1951.4,691.5 1953.8,690.4 C1955.8,689.5 1957.8,675.8 1959.8,674.8 C1961.8,673.8 1963.8,679.5 1965.8,684.4 C1966.6,686.3 1967.4,694.4 1968.2,695.2 C1971.4,698.4 1974.6,696.9 1977.8,696.4 C1982.6,695.7 1987.5,693.2 1992.3,691.6" stroke="#AA70DC"/>
<path d="M240.8,329.3 C245.2,330.5 249.7,332.1 254.1,332.9 C258.1,333.6 262.1,333.9 266.1,333.6 C270.1,333.3 274.1,331.6 278.1,331.2 C282.1,330.8 286.2,330.6 290.2,331.2 C294.2,331.8 298.2,333.9 302.2,334.8 C305.4,335.5 308.6,335.9 311.8,336.0 C316.6,336.1 321.5,335.9 326.3,335.3 C330.3,334.8 334.3,333.5 338.3,332.9 C343.1,332.2 347.9,331.0 352.7,331.2 C356.7,331.4 360.8,332.2 364.8,334.1 C369.6,336.4 374.4,338.9 379.2,343.7 C382.4,346.9 385.6,351.7 388.8,358.1 C392.0,364.5 395.3,372.5 398.5,382.2 C401.7,391.8 404.9,405.1 408.1,415.9 C411.3,426.7 414.5,438.0 417.7,447.2 C420.9,456.4 424.1,465.5 427.3,471.2 C432.1,479.9 437.0,485.3 441.8,490.5 C447.4,496.5 453.0,500.7 458.6,504.9 C462.6,507.9 466.7,510.7 470.7,512.2 C477.1,514.6 483.5,515.5 489.9,516.5 C493.9,517.1 497.9,516.6 501.9,517.0 C506.7,517.4 511.6,518.0 516.4,518.9 C520.4,519.6 524.4,522.0 528.4,521.8 C533.2,521.5 538.1,519.2 542.9,517.4 C547.7,515.6 552.5,512.5 557.3,510.9 C562.9,509.0 568.5,508.3 574.1,506.9 C579.7,505.5 585.4,503.7 591.0,502.5 C597.4,501.1 603.8,500.4 610.2,498.9 C615.8,497.6 621.5,496.5 627.1,494.1 C632.7,491.7 638.3,487.9 643.9,484.5 C650.3,480.6 656.8,476.6 663.2,472.4 C669.6,468.2 676.0,463.5 682.4,459.2 C684.9,457.5 687.5,456.2 690.0,454.4 C694.8,451.0 699.6,447.6 704.4,443.6 C709.2,439.6 714.1,434.5 718.9,430.3 C723.7,426.1 728.5,421.9 733.3,418.3 C738.1,414.7 743.0,410.1 747.8,408.7 C751.0,407.7 754.2,409.5 757.4,411.1 C760.6,412.7 763.8,416.7 767.0,418.3 C770.2,419.9 773.4,420.7 776.6,420.7 C779.8,420.7 783.1,420.1 786.3,418.3 C791.9,415.3 797.5,410.5 803.1,406.3 C807.1,403.3 811.1,400.4 815.1,396.6 C819.9,392.0 824.8,385.0 829.6,381.0 C834.4,377.0 839.2,374.5 844.0,372.6 C850.4,370.1 856.9,369.6 863.3,367.8 C869.7,366.0 876.1,364.3 882.5,361.7 C888.9,359.1 895.4,355.5 901.8,352.1 C908.2,348.7 914.6,344.5 921.0,341.3 C925.8,338.9 930.7,336.5 935.5,335.3 C941.9,333.7 948.3,333.7 954.7,332.9 C961.1,332.1 967.6,331.0 974.0,330.5 C980.4,330.0 986.8,329.7 993.2,329.7 C1003.6,329.7 1014.1,330.9 1024.5,330.5 C1029.3,330.3 1034.2,327.9 1039.0,328.0 C1043.8,328.1 1048.6,330.0 1053.4,331.2 C1059.0,332.6 1064.6,336.0 1070.2,336.0 C1075.0,336.0 1079.9,332.2 1084.7,331.2 C1090.3,330.1 1095.9,329.2 1101.5,329.7 C1107.1,330.2 1112.8,332.1 1118.4,334.1 C1124.8,336.4 1131.2,340.1 1137.6,342.5 C1141.7,344.1 1145.9,345.3 1150.0,346.1 C1154.8,347.1 1159.6,348.1 1164.4,348.0 C1169.2,347.9 1174.1,346.9 1178.9,345.6 C1185.3,343.9 1191.7,340.9 1198.1,338.9 C1206.1,336.4 1214.2,333.6 1222.2,332.1 C1230.2,330.6 1238.3,330.0 1246.3,329.7 C1258.3,329.2 1270.4,329.4 1282.4,329.7 C1290.4,329.9 1298.4,331.1 1306.4,331.2 C1314.4,331.3 1322.5,329.5 1330.5,330.5 C1336.1,331.2 1341.7,333.0 1347.3,336.5 C1351.3,339.0 1355.4,342.9 1359.4,348.5 C1363.4,354.1 1367.4,361.3 1371.4,370.2 C1374.6,377.3 1377.8,387.4 1381.0,396.6 C1384.2,405.9 1387.5,415.8 1390.7,425.5 C1393.9,435.1 1397.1,444.8 1400.3,454.4 C1403.5,464.0 1406.7,475.3 1409.9,483.3 C1413.1,491.3 1416.3,497.8 1419.5,502.5 C1423.1,507.8 1426.8,513.4 1430.4,513.4 C1434.0,513.4 1437.6,509.5 1441.2,502.5 C1445.2,494.7 1449.2,483.0 1453.2,468.8 C1456.4,457.3 1459.7,438.8 1462.9,425.5 C1466.1,412.3 1469.3,399.4 1472.5,389.4 C1475.7,379.4 1478.9,371.4 1482.1,365.4 C1484.5,360.9 1486.9,358.5 1489.3,358.1 C1491.7,357.7 1494.1,358.8 1496.5,362.9 C1499.7,368.4 1503.0,376.9 1506.2,387.0 C1508.6,394.5 1511.0,406.6 1513.4,415.9 C1516.6,428.3 1519.8,441.7 1523.0,452.0 C1525.8,461.0 1528.6,471.6 1531.4,473.6 C1534.2,475.6 1537.1,470.8 1539.9,464.0 C1543.1,456.3 1546.3,440.7 1549.5,430.3 C1552.7,419.9 1555.9,408.0 1559.1,401.4 C1561.5,396.4 1563.9,395.2 1566.3,395.4 C1569.5,395.6 1572.8,402.3 1576.0,402.7 C1581.6,403.5 1587.2,404.0 1592.8,399.0 C1597.6,394.7 1602.4,383.6 1607.2,375.0 C1609.6,370.7 1612.0,363.2 1614.4,360.5 C1618.4,356.0 1622.5,353.3 1626.5,353.3 C1629.7,353.3 1632.9,354.9 1636.1,360.5 C1639.3,366.1 1642.5,376.4 1645.7,387.0 C1648.1,394.9 1650.5,407.1 1652.9,415.9 C1655.3,424.8 1657.8,433.5 1660.2,440.0 C1662.6,446.4 1665.0,450.0 1667.4,454.4 C1669.8,458.8 1672.2,462.3 1674.6,466.4 C1677.8,471.9 1681.0,480.2 1684.2,483.3 C1689.8,488.7 1695.5,488.5 1701.1,491.7 C1705.9,494.5 1710.7,498.3 1715.5,501.3 C1719.1,503.5 1722.7,508.0 1726.3,507.3 C1729.1,506.8 1732.0,504.6 1734.8,497.7 C1737.2,491.8 1739.6,479.2 1742.0,468.8 C1744.4,458.4 1746.8,445.5 1749.2,435.1 C1751.6,424.7 1754.0,414.3 1756.4,406.3 C1758.8,398.3 1761.2,391.1 1763.6,387.0 C1766.8,381.5 1770.1,380.0 1773.3,377.4 C1776.5,374.8 1779.7,374.6 1782.9,371.4 C1786.1,368.2 1789.3,362.3 1792.5,358.1 C1795.7,353.9 1799.0,350.6 1802.2,346.1 C1805.0,342.2 1807.8,334.1 1810.6,332.9 C1813.4,331.7 1816.2,334.6 1819.0,338.9 C1822.2,343.8 1825.4,353.6 1828.6,360.5 C1831.0,365.7 1833.4,371.7 1835.8,375.0 C1837.8,377.8 1839.9,378.8 1841.9,378.6 C1843.9,378.4 1845.9,375.8 1847.9,373.8 C1851.1,370.6 1854.3,364.9 1857.5,362.9 C1863.1,359.3 1868.7,357.7 1874.3,356.9 C1880.7,356.0 1887.2,358.1 1893.6,357.6 C1898.4,357.3 1903.2,355.6 1908.0,354.5 C1912.8,353.4 1917.7,351.4 1922.5,350.9 C1925.7,350.6 1928.9,352.5 1932.1,352.1 C1935.3,351.7 1938.5,350.6 1941.7,348.5 C1946.5,345.3 1951.4,337.4 1956.2,336.0 C1960.2,334.8 1964.2,339.7 1968.2,340.8 C1972.2,341.9 1976.2,341.6 1980.2,342.5 C1984.2,343.4 1988.3,344.9 1992.3,346.1" stroke="#C99700"/>
<path d="M240.8,160.1 C245.2,161.9 249.7,164.0 254.1,165.6 C258.1,167.0 262.1,167.9 266.1,169.2 C272.5,171.3 279.0,172.6 285.4,175.7 C288.2,177.0 291.0,182.5 293.8,182.5 C296.6,182.5 299.4,177.9 302.2,175.7 C305.4,173.2 308.6,169.0 311.8,168.5 C317.4,167.6 323.1,169.7 328.7,171.4 C331.9,172.4 335.1,176.8 338.3,176.4 C341.9,176.0 345.5,169.1 349.1,169.0 C353.5,168.9 358.0,172.6 362.4,175.7 C366.4,178.5 370.4,184.2 374.4,186.6 C379.2,189.5 384.0,189.0 388.8,191.4 C392.0,193.0 395.3,195.2 398.5,198.6 C401.7,202.0 404.9,205.2 408.1,211.8 C410.5,216.8 412.9,226.7 415.3,233.5 C417.7,240.3 420.1,248.8 422.5,252.7 C426.5,259.2 430.6,262.8 434.6,264.8 C439.4,267.2 444.2,264.3 449.0,266.0 C453.0,267.5 457.0,271.6 461.0,274.4 C465.0,277.2 469.1,280.0 473.1,282.8 C477.1,285.6 481.1,288.5 485.1,291.2 C490.3,294.7 495.5,299.4 500.7,301.3 C504.3,302.6 508.0,302.3 511.6,300.9 C515.6,299.3 519.6,294.2 523.6,292.4 C528.4,290.3 533.2,290.5 538.0,289.3 C542.8,288.1 547.7,286.1 552.5,285.2 C558.9,284.0 565.3,284.6 571.7,282.8 C578.1,281.0 584.6,275.0 591.0,274.4 C598.2,273.7 605.4,279.6 612.6,278.7 C618.2,278.0 623.9,273.2 629.5,269.6 C634.3,266.5 639.1,261.6 643.9,258.8 C649.5,255.5 655.2,253.5 660.8,251.5 C665.6,249.8 670.4,250.3 675.2,247.9 C680.1,245.5 685.1,240.6 690.0,237.1 C694.0,234.2 698.0,231.9 702.0,228.7 C706.0,225.5 710.1,220.7 714.1,217.8 C718.9,214.3 723.7,211.8 728.5,209.4 C733.3,207.0 738.1,204.0 742.9,203.4 C747.7,202.8 752.6,204.1 757.4,205.8 C760.6,206.9 763.8,210.4 767.0,211.8 C770.2,213.2 773.4,214.5 776.6,214.2 C781.4,213.7 786.3,211.6 791.1,209.4 C796.7,206.8 802.3,203.8 807.9,199.8 C813.5,195.8 819.2,189.0 824.8,185.4 C831.2,181.3 837.6,178.3 844.0,176.9 C850.4,175.5 856.9,177.1 863.3,176.9 C868.1,176.7 872.9,176.8 877.7,175.7 C884.9,174.0 892.2,171.0 899.4,168.5 C905.8,166.2 912.2,163.1 918.6,161.3 C923.4,159.9 928.3,159.2 933.1,158.9 C938.7,158.6 944.3,159.6 949.9,159.4 C953.9,159.2 957.9,157.8 961.9,157.7 C967.5,157.6 973.2,158.9 978.8,158.9 C986.8,158.9 994.9,158.1 1002.9,157.7 C1010.9,157.3 1018.9,156.5 1026.9,156.5 C1030.1,156.5 1033.3,158.0 1036.5,157.7 C1042.1,157.2 1047.8,154.4 1053.4,154.1 C1059.0,153.8 1064.6,155.1 1070.2,156.0 C1073.4,156.5 1076.7,158.2 1079.9,158.4 C1087.9,159.0 1095.9,157.9 1103.9,158.4 C1108.7,158.7 1113.6,159.6 1118.4,160.8 C1125.6,162.6 1132.8,166.1 1140.0,167.3 C1143.3,167.9 1146.7,166.0 1150.0,166.1 C1156.4,166.3 1162.9,168.1 1169.3,168.0 C1174.9,167.9 1180.5,166.7 1186.1,165.6 C1198.1,163.3 1210.2,159.8 1222.2,157.7 C1230.2,156.3 1238.3,155.6 1246.3,155.3 C1258.3,154.8 1270.4,155.4 1282.4,155.3 C1294.4,155.2 1306.5,154.4 1318.5,154.8 C1325.7,155.0 1332.9,155.2 1340.1,157.0 C1344.9,158.2 1349.8,160.3 1354.6,163.7 C1358.6,166.5 1362.6,170.2 1366.6,175.7 C1371.1,181.8 1375.5,190.1 1380.0,198.6 C1384.4,207.0 1388.9,216.7 1393.3,226.5 C1397.7,236.3 1402.2,248.1 1406.6,257.2 C1411.0,266.3 1415.5,274.8 1419.9,281.1 C1423.5,286.1 1427.0,289.0 1430.6,291.1 C1432.4,292.1 1434.1,292.1 1435.9,290.4 C1439.5,287.0 1443.0,282.7 1446.6,275.8 C1450.1,269.0 1453.7,259.6 1457.2,249.2 C1460.3,240.1 1463.4,226.9 1466.5,217.2 C1469.6,207.4 1472.8,198.6 1475.9,190.6 C1478.5,183.9 1481.2,177.3 1483.8,173.3 C1486.0,169.9 1488.3,168.8 1490.5,168.6 C1492.7,168.4 1495.0,169.2 1497.2,172.0 C1499.8,175.2 1502.5,180.4 1505.1,186.6 C1507.8,192.8 1510.4,200.7 1513.1,209.2 C1515.3,216.3 1517.6,226.0 1519.8,233.2 C1522.0,240.2 1524.2,247.2 1526.4,251.8 C1527.7,254.6 1529.1,255.4 1530.4,255.2 C1532.2,255.0 1534.0,253.5 1535.8,250.5 C1538.4,246.1 1541.1,240.4 1543.7,233.2 C1545.9,227.1 1548.2,216.4 1550.4,210.6 C1552.6,204.8 1554.9,201.2 1557.1,198.6 C1559.7,195.6 1562.4,194.2 1565.0,193.9 C1567.7,193.6 1570.3,195.7 1573.0,196.6 C1576.1,197.7 1579.3,199.8 1582.4,199.9 C1585.0,200.0 1587.7,199.0 1590.3,197.2 C1593.0,195.4 1595.6,192.4 1598.3,189.3 C1601.0,186.2 1603.6,181.8 1606.3,178.6 C1609.9,174.3 1613.4,169.9 1617.0,166.6 C1620.5,163.3 1624.1,159.1 1627.6,158.6 C1630.3,158.2 1632.9,160.8 1635.6,164.0 C1639.8,168.9 1643.9,174.4 1648.1,182.9 C1652.1,191.1 1656.2,204.1 1660.2,214.2 C1662.6,220.2 1665.0,225.7 1667.4,231.1 C1671.4,240.1 1675.4,250.9 1679.4,257.5 C1683.4,264.1 1687.4,267.7 1691.4,270.8 C1694.6,273.3 1697.9,272.4 1701.1,274.4 C1705.1,276.8 1709.1,280.8 1713.1,284.0 C1717.1,287.2 1721.1,293.1 1725.1,293.6 C1727.9,293.9 1730.8,292.5 1733.6,286.4 C1736.4,280.4 1739.2,268.3 1742.0,257.5 C1744.4,248.3 1746.8,234.5 1749.2,226.3 C1752.4,215.3 1755.6,206.4 1758.8,199.8 C1762.0,193.1 1765.3,189.3 1768.5,186.6 C1772.5,183.3 1776.5,183.9 1780.5,181.7 C1784.5,179.5 1788.5,176.8 1792.5,173.3 C1798.1,168.4 1803.8,159.1 1809.4,156.5 C1812.6,155.1 1815.8,158.5 1819.0,161.3 C1823.0,164.9 1827.0,172.2 1831.0,175.7 C1834.2,178.6 1837.5,180.8 1840.7,180.5 C1845.5,180.0 1850.3,174.0 1855.1,173.3 C1866.3,171.6 1877.6,173.7 1888.8,173.3 C1895.2,173.1 1901.6,171.6 1908.0,171.4 C1916.0,171.2 1924.1,174.2 1932.1,172.1 C1940.9,169.8 1949.8,160.7 1958.6,158.4 C1961.8,157.5 1965.0,161.7 1968.2,162.5 C1976.2,164.5 1984.3,165.2 1992.3,166.6" stroke="#00C8C8"/>
</g>
<g stroke="#000" stroke-width="3.5" fill="none">
<polyline points="502.2,1769 502.2,170 657.7,170"/>
<polyline points="1431.3,1769 1431.3,98 1569.7,98"/>
<polyline points="1531.2,1769 1531.2,144.7 1708,144.7"/>
</g>
<g stroke="#000" stroke-width="10.5" stroke-linecap="round" fill="none">
<line x1="240.6" y1="1773.5" x2="1990.8" y2="1773.5" stroke-linecap="butt"/>
<path d="M240.6,1797 V1773.5 H1990.8 V1797" stroke-linejoin="round"/>
<line x1="240.6" y1="1773" x2="240.6" y2="1797"/><line x1="365.6" y1="1773" x2="365.6" y2="1786"/><line x1="490.6" y1="1773" x2="490.6" y2="1797"/><line x1="615.6" y1="1773" x2="615.6" y2="1786"/><line x1="740.6" y1="1773" x2="740.6" y2="1797"/><line x1="865.6" y1="1773" x2="865.6" y2="1786"/><line x1="990.6" y1="1773" x2="990.6" y2="1797"/><line x1="1115.6" y1="1773" x2="1115.6" y2="1786"/><line x1="1240.6" y1="1773" x2="1240.6" y2="1797"/><line x1="1365.6" y1="1773" x2="1365.6" y2="1786"/><line x1="1490.6" y1="1773" x2="1490.6" y2="1797"/><line x1="1615.6" y1="1773" x2="1615.6" y2="1786"/><line x1="1740.6" y1="1773" x2="1740.6" y2="1797"/><line x1="1865.6" y1="1773" x2="1865.6" y2="1786"/><line x1="1990.6" y1="1773" x2="1990.6" y2="1797"/>
</g>
<g font-size="76.5">
<text x="240.6" y="1870.6" text-anchor="middle">4000</text><text x="490.6" y="1870.6" text-anchor="middle">3500</text><text x="740.6" y="1870.6" text-anchor="middle">3000</text><text x="990.6" y="1870.6" text-anchor="middle">2500</text><text x="1240.6" y="1870.6" text-anchor="middle">2000</text><text x="1490.6" y="1870.6" text-anchor="middle">1500</text><text x="1740.6" y="1870.6" text-anchor="middle">1000</text><text x="1990.6" y="1870.6" text-anchor="middle">500</text>
</g>
<g font-size="56">
<text x="513" y="157">3475</text>
<text transform="translate(1433.5,86.6) scale(0.96,1)">1610</text>
<text transform="translate(1582,135.3) scale(0.935,1)">1411</text>
</g>
<g font-size="73">
<text transform="translate(38.31,257.1) scale(0.9644,1)">20%MMT</text>
<text transform="translate(42.51,439.2) scale(0.9562,1)">18%MMT</text>
<text transform="translate(41.22,637.7) scale(0.9548,1)">16%MMT</text>
<text transform="translate(30.69,911.4) scale(0.9579,1)">14%MMT</text>
<text transform="translate(42.51,1147.3) scale(0.9562,1)">12%MMT</text>
<text transform="translate(35.12,1314.0) scale(0.9548,1)">10%MMT</text>
<text transform="translate(38.92,1589.2) scale(0.9584,1)">0%MMT</text>
</g>
<text transform="translate(771.5,1971.7) scale(0.993,1)" font-size="82.5" font-weight="bold">Wavenumber (cm<tspan font-size="50" font-weight="normal" dx="-2.5" dy="-40.7">-1</tspan><tspan dy="40.7" dx="1.5">)</tspan></text>
</g>
</svg>
</body></html>
